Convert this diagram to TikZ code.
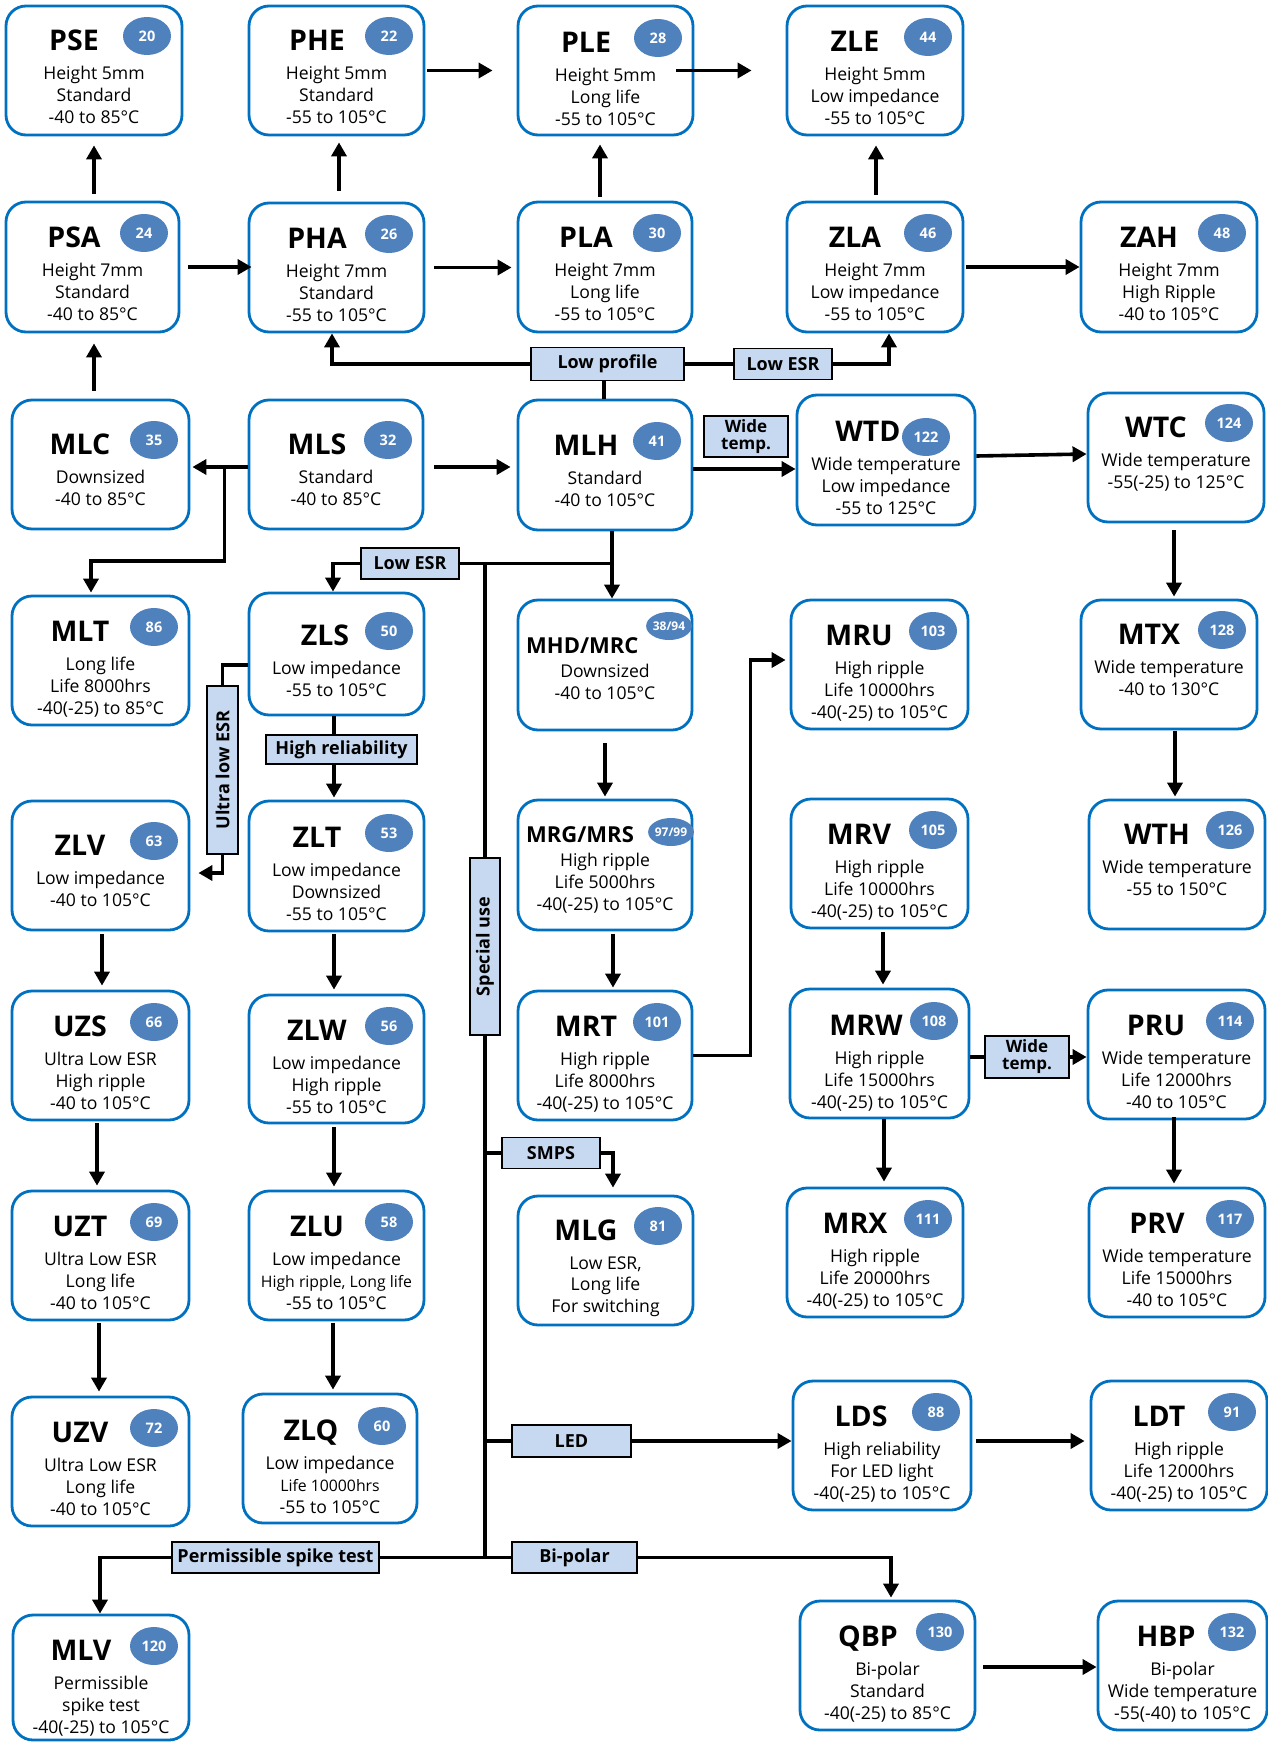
\documentclass[tikz,border=0pt]{standalone}
\usepackage{fontspec}
\setmainfont{Open Sans}
\usetikzlibrary{arrows.meta,shapes.geometric,calc}
\definecolor{boxblue}{HTML}{0070C0}
\definecolor{badgeblue}{HTML}{4F81BD}
\definecolor{lblfill}{HTML}{C6D9F1}
\tikzset{
 pbox/.style={draw=boxblue, line width=2.8pt, rounded corners=20pt, fill=white, inner sep=0},
 ptitle/.style={font=\bfseries\fontsize{28.5}{30}\selectfont, inner sep=0, text height=20.3pt, text depth=0pt},
 badge/.style={ellipse, fill=badgeblue, text=white, font=\bfseries\fontsize{14.5}{15}\selectfont, minimum width=48pt, minimum height=38pt, inner sep=0},
 smallbadge/.style={minimum width=44pt, minimum height=28pt, font=\bfseries\fontsize{12}{13}\selectfont},
 pbody/.style={font=\fontsize{17.6}{21.7}\selectfont, align=center, inner sep=0, execute at begin node=\strut},
 lbl/.style={draw=black, line width=1.8pt, fill=lblfill, font=\bfseries\fontsize{18}{18}\selectfont, inner sep=0},
 conn/.style={line width=3.6pt},
 arr/.style={line width=3.6pt, -{Triangle[length=14pt,width=15pt]}},
}
\def\tdx{68}\def\bdx{35}\def\bdy{-4}
\newcommand\pbx[9]{%
 \node[pbox, minimum width={#4-#2}, minimum height={#5-#3}] (#1) at ({(#2+#4)/2},{(#3+#5)/2}) {};
 \node[ptitle] (#1-t) at ({#2+\tdx},{#3+#6}) {#7};
 \node[badge] (#1-n) at ({#4-\bdx},{#3+#6+\bdy}) {#8};
 \node[pbody, anchor=north] (#1-d) at ({(#2+#4)/2},{#3+#6+26.2}) {#9};
}
\begin{document}
\begin{tikzpicture}[x=1pt,y=-1pt]
\fill[white] (0,0) rectangle (1268,1742);
\useasboundingbox (0,0) rectangle (1268,1742);

% ---------- product boxes ----------
\pbx{PSE}{6}{6}{182}{135}{34}{PSE}{20}{Height 5mm\\Standard\\-40 to 85°C}
\pbx{PHE}{249}{6}{424}{135}{34}{PHE}{22}{Height 5mm\\Standard\\-55 to 105°C}
\pbx{PLE}{518}{6}{693}{135}{36}{PLE}{28}{Height 5mm\\Long life\\-55 to 105°C}
\pbx{ZLE}{787}{6}{963}{135}{35}{ZLE}{44}{Height 5mm\\Low impedance\\-55 to 105°C}
\pbx{PSA}{6}{202}{179}{332}{35}{PSA}{24}{Height 7mm\\Standard\\-40 to 85°C}
\pbx{PHA}{249}{203}{424}{332}{35}{PHA}{26}{Height 7mm\\Standard\\-55 to 105°C}
\pbx{PLA}{518}{202}{692}{332}{35}{PLA}{30}{Height 7mm\\Long life\\-55 to 105°C}
\pbx{ZLA}{787}{202}{963}{332}{35}{ZLA}{46}{Height 7mm\\Low impedance\\-55 to 105°C}
\pbx{ZAH}{1081}{202}{1257}{332}{35}{ZAH}{48}{Height 7mm\\High Ripple\\-40 to 105°C}
\pbx{MLC}{12}{400}{189}{529}{44}{MLC}{35}{Downsized\\-40 to 85°C}
\pbx{MLS}{249}{400}{423}{529}{44}{MLS}{32}{Standard\\-40 to 85°C}
\pbx{MLH}{518}{400}{692}{530}{45}{MLH}{41}{Standard\\-40 to 105°C}
{\def\bdx{49}\def\bdy{6}\def\tdx{71}
\pbx{WTD}{797}{395}{975}{525}{36}{WTD}{122}{Wide temperature\\Low impedance\\-55 to 125°C}}
\pbx{WTC}{1088}{393}{1264}{522}{34}{WTC}{124}{Wide temperature\\-55(-25) to 125°C}
\pbx{MLT}{12}{596}{189}{725}{35}{MLT}{86}{Long life\\Life 8000hrs\\-40(-25) to 85°C}
{\def\tdx{76}
\pbx{ZLS}{249}{593}{424}{715}{42}{ZLS}{50}{Low impedance\\-55 to 105°C}}
\pbx{MRU}{791}{600}{968}{729}{35}{MRU}{103}{High ripple\\Life 10000hrs\\-40(-25) to 105°C}
\pbx{MTX}{1081}{600}{1257}{729}{34}{MTX}{128}{Wide temperature\\-40 to 130°C}
\pbx{ZLV}{12}{801}{189}{930}{44}{ZLV}{63}{Low impedance\\-40 to 105°C}
\pbx{ZLT}{249}{801}{424}{931}{36}{ZLT}{53}{Low impedance\\Downsized\\-55 to 105°C}
\pbx{MRV}{791}{799}{968}{928}{35}{MRV}{105}{High ripple\\Life 10000hrs\\-40(-25) to 105°C}
\pbx{WTH}{1089}{800}{1265}{929}{34}{WTH}{126}{Wide temperature\\-55 to 150°C}
\pbx{UZS}{12}{991}{189}{1120}{35}{UZS}{66}{Ultra Low ESR\\High ripple\\-40 to 105°C}
\pbx{ZLW}{249}{995}{424}{1123}{35}{ZLW}{56}{Low impedance\\High ripple\\-55 to 105°C}
\pbx{MRT}{518}{991}{692}{1120}{35}{MRT}{101}{High ripple\\Life 8000hrs\\-40(-25) to 105°C}
{\def\tdx{76}
\pbx{MRW}{790}{989}{969}{1118}{36}{MRW}{108}{High ripple\\Life 15000hrs\\-40(-25) to 105°C}}
\pbx{PRU}{1088}{990}{1265}{1119}{35}{PRU}{114}{Wide temperature\\Life 12000hrs\\-40 to 105°C}
\pbx{UZT}{12}{1191}{189}{1320}{35}{UZT}{69}{Ultra Low ESR\\Long life\\-40 to 105°C}
\pbx{ZLU}{249}{1191}{424}{1320}{35}{ZLU}{58}{Low impedance\\{\fontsize{15.8}{21.7}\selectfont High ripple, Long life}\\-55 to 105°C}
\pbx{MLG}{518}{1196}{693}{1325}{34}{MLG}{81}{Low ESR,\\Long life\\For switching}
\pbx{MRX}{787}{1188}{963}{1317}{35}{MRX}{111}{High ripple\\Life 20000hrs\\-40(-25) to 105°C}
\pbx{PRV}{1089}{1188}{1265}{1317}{35}{PRV}{117}{Wide temperature\\Life 15000hrs\\-40 to 105°C}
\pbx{UZV}{12}{1397}{189}{1526}{35}{UZV}{72}{Ultra Low ESR\\Long life\\-40 to 105°C}
\pbx{ZLQ}{243}{1394}{417}{1523}{36}{ZLQ}{60}{Low impedance\\{\fontsize{15.8}{21.7}\selectfont Life 10000hrs}\\-55 to 105°C}
\pbx{LDS}{793}{1381}{971}{1510}{35}{LDS}{88}{High reliability\\For LED light\\-40(-25) to 105°C}
\pbx{LDT}{1091}{1381}{1267}{1510}{35}{LDT}{91}{High ripple\\Life 12000hrs\\-40(-25) to 105°C}
\pbx{MLV}{13}{1615}{189}{1740}{35}{MLV}{120}{Permissible\\spike test\\-40(-25) to 105°C}
\pbx{QBP}{800}{1601}{975}{1730}{35}{QBP}{130}{Bi-polar\\Standard\\-40(-25) to 85°C}
\pbx{HBP}{1098}{1601}{1267}{1730}{35}{HBP}{132}{Bi-polar\\Wide temperature\\-55(-40) to 105°C}

% MHD/MRC and MRG/MRS
\node[pbox, minimum width=174, minimum height=130] (MHD) at (605,665) {};
\node[ptitle, font=\bfseries\fontsize{22}{24}\selectfont, text height=15.7pt, anchor=west] (MHD-t) at (526,646) {MHD/MRC};
\node[badge, smallbadge] (MHD-n) at (669,626) {38/94};
\node[pbody, anchor=north] (MHD-d) at (605,664.2) {Downsized\\-40 to 105°C};
\node[pbox, minimum width=174, minimum height=130] (MRG) at (605,865) {};
\node[ptitle, font=\bfseries\fontsize{22}{24}\selectfont, text height=15.7pt, anchor=west] (MRG-t) at (526,835) {MRG/MRS};
\node[badge, smallbadge] (MRG-n) at (671,832) {97/99};
\node[pbody, anchor=north] (MRG-d) at (605,853.2) {High ripple\\Life 5000hrs\\-40(-25) to 105°C};

% ---------- labels ----------
\node[lbl, minimum width=153, minimum height=33] (LP) at (607.5,364) {Low profile};
\node[lbl, minimum width=98, minimum height=31] (LESR1) at (783,364) {Low ESR};
\node[lbl, align=center, minimum width=84, minimum height=41, font=\bfseries\fontsize{17}{17}\selectfont] (WT1) at (746,436.5) {Wide\\temp.};
\node[lbl, minimum width=98, minimum height=31] (LESR2) at (410,563.5) {Low ESR};
\node[lbl, minimum width=151, minimum height=29] (HR) at (341.5,749.5) {High reliability};
\node[lbl, rotate=90, minimum width=168, minimum height=31] (ULE) at (222.5,770) {Ultra low ESR};
\node[lbl, rotate=90, minimum width=177, minimum height=30] (SU) at (485,946.5) {Special use};
\node[lbl, minimum width=98, minimum height=31] (SMPS) at (551,1153) {SMPS};
\node[lbl, minimum width=119, minimum height=32] (LED) at (571.5,1441) {LED};
\node[lbl, minimum width=125, minimum height=31] (BP) at (574.5,1557.5) {Bi-polar};
\node[lbl, minimum width=207, minimum height=31] (PST) at (275.5,1557.5) {Permissible spike test};
\node[lbl, align=center, minimum width=84, minimum height=42, font=\bfseries\fontsize{17}{17}\selectfont] (WT2) at (1027,1057) {Wide\\temp.};

% ---------- connectors ----------
% vertical arrows, upper part
\draw[arr, shorten <=7pt, shorten >=9pt] ([xshift=1.5pt]PSA.north) -- ([xshift=1.5pt]PSA.north |- PSE.south);
\draw[arr, shorten <=11pt, shorten >=6pt] ([xshift=2.5pt]PHA.north) -- ([xshift=2.5pt]PHA.north |- PHE.south);
\draw[arr, shorten <=4pt, shorten >=8pt] ([xshift=-5pt]PLA.north) -- ([xshift=-5pt]PLA.north |- PLE.south);
\draw[arr, shorten <=6pt, shorten >=9pt] ([xshift=1pt]ZLA.north) -- ([xshift=1pt]ZLA.north |- ZLE.south);
\draw[arr, shorten <=8pt, shorten >=10pt] ([xshift=-6.5pt]MLC.north) -- ([xshift=-6.5pt]MLC.north |- PSA.south);
% horizontal arrows, upper part
\draw[arr, shorten <=2pt, shorten >=24pt] (PHE.east) -- (PHE.east -| PLE.west);
\draw[arr, shorten >=34pt] ([xshift=-18pt]PLE.east) -- (PLE.east -| ZLE.west);
\draw[arr, shorten <=8pt, shorten >=-4pt] (PSA.east) -- (PSA.east -| PHA.west);
\draw[arr, shorten <=9pt, shorten >=5pt] (PHA.east) -- (PHA.east -| PLA.west);
\draw[arr, shorten <=2pt] (ZLA.east) -- (ZLA.east -| ZAH.west);
% low profile / low ESR
\draw[conn] ([xshift=-1pt]MLH.north) -- ([xshift=-1pt]MLH.north |- LP.south);
\draw[arr] (LP.west) -| ([xshift=-4.5pt]PHA.south);
\draw[conn] (LP.east) -- (LESR1.west);
\draw[arr] (LESR1.east) -| ([xshift=14pt]ZLA.south);
% MLS / MLH row
\draw[arr, shorten <=10pt, shorten >=6pt] ([yshift=-2.5pt]MLS.east) -- ([yshift=-2.5pt]MLS.east -| MLH.west);
\draw[arr] ([yshift=-4pt]MLH.east) -- ([yshift=-4pt]MLH.east -| WTD.west);
\draw[arr] ([yshift=4pt]WTD.east) -- ([yshift=3.5pt]WTC.west);
\draw[arr, shorten >=2pt] ([yshift=-2.5pt]MLS.west) -- ([yshift=-2.5pt]MLS.west -| MLC.east);
\coordinate (jMLS) at ([xshift=-23pt,yshift=-2.5pt]MLS.west);
\draw[arr, shorten >=2pt] (jMLS) -- ++(0,94) -| ([xshift=-9.5pt]MLT.north);
% MLH down, low ESR, special use trunk
\coordinate (mlhd) at ([xshift=7pt]MLH.south);
\draw[arr] (mlhd) -- (mlhd |- MHD.north);
\draw[conn] (LESR2.east) -- (LESR2.east -| mlhd);
\draw[arr] (LESR2.west) -| ([xshift=-3.5pt]ZLS.north);
\draw[conn] (LESR2.east -| SU.east) -- (SU.east);
\draw[conn] (SU.west) -- (SU.west |- BP.west);
% ZLS branch
\draw[conn] ([yshift=-11pt]ZLS.west) -| (ULE.east);
\draw[arr, shorten >=8pt] (ULE.west) |- ([yshift=-7.5pt]ZLV.east);
\draw[conn] ([xshift=-2.5pt]ZLS.south) -- ([xshift=-2.5pt]ZLS.south |- HR.north);
\draw[arr, shorten >=2pt] ([xshift=-2.5pt]ZLS.south |- HR.south) -- ([xshift=-2.5pt]ZLS.south |- ZLT.north);
\draw[arr, shorten <=2pt, shorten >=4pt] ([xshift=-2.5pt]ZLT.south) -- ([xshift=-2.5pt]ZLT.south |- ZLW.north);
\draw[arr, shorten <=3pt, shorten >=3pt] ([xshift=-2.5pt]ZLW.south) -- ([xshift=-2.5pt]ZLW.south |- ZLU.north);
\draw[arr, shorten <=2pt, shorten >=3pt] ([xshift=-3.5pt]ZLU.south) -- ([xshift=-3.5pt]ZLU.south |- ZLQ.north);
% left column
\draw[arr, shorten <=3pt, shorten >=4pt] ([xshift=1.5pt]ZLV.south) -- ([xshift=1.5pt]ZLV.south |- UZS.north);
\draw[arr, shorten <=2pt, shorten >=4pt] ([xshift=-3.5pt]UZS.south) -- ([xshift=-3.5pt]UZS.south |- UZT.north);
\draw[arr, shorten <=2pt, shorten >=4pt] ([xshift=-1.5pt]UZT.south) -- ([xshift=-1.5pt]UZT.south |- UZV.north);
% middle column
\draw[arr, shorten <=12pt, shorten >=2pt] (MHD.south) -- (MHD.south |- MRG.north);
\draw[arr, shorten <=3pt, shorten >=2pt] ([xshift=8pt]MRG.south) -- ([xshift=8pt]MRG.south |- MRT.north);
\draw[arr, shorten >=4pt] (MRT.east) -- ++(57,0) |- ([yshift=4.5pt]MRU.west);
% MR column
\draw[arr, shorten <=3pt, shorten >=3pt] ([xshift=3.5pt]MRV.south) -- ([xshift=3.5pt]MRV.south |- MRW.north);
\draw[arr, shorten >=5pt] ([xshift=4.5pt]MRW.south) -- ([xshift=4.5pt]MRW.south |- MRX.north);
\draw[conn] (MRW.east |- WT2.west) -- (WT2.west);
\draw[arr] (WT2.east) -- (WT2.east -| PRU.west);
% right column
\draw[arr, shorten <=7pt, shorten >=2pt] ([xshift=-2pt]WTC.south) -- ([xshift=-2pt]WTC.south |- MTX.north);
\draw[arr, shorten <=1pt, shorten >=2pt] ([xshift=6pt]MTX.south) -- ([xshift=6pt]MTX.south |- WTH.north);
\draw[arr, shorten <=-3pt, shorten >=3pt] ([xshift=-2.5pt]PRU.south) -- ([xshift=-2.5pt]PRU.south |- PRV.north);
% special use branches
\draw[conn] (SU.west |- SMPS.west) -- (SMPS.west);
\draw[arr, shorten >=7pt] (SMPS.east) -| ([xshift=7.5pt]MLG.north);
\draw[conn] (SU.west |- LED.west) -- (LED.west);
\draw[arr] (LED.east) -- (LED.east -| LDS.west);
\draw[conn] (SU.west |- BP.west) -- (BP.west);
\draw[arr, shorten >=2pt] (BP.east) -| ([xshift=3.5pt]QBP.north);
\draw[conn] (SU.west |- PST.east) -- (PST.east);
\draw[arr] (PST.west) -| ([xshift=-1pt]MLV.north);
% bottom right
\draw[arr, shorten <=4pt, shorten >=5pt] ([yshift=4.5pt]LDS.east) -- ([yshift=4.5pt]LDS.east -| LDT.west);
\draw[arr, shorten <=7pt] ([yshift=-1.5pt]QBP.east) -- ([yshift=-1.5pt]QBP.east -| HBP.west);
\end{tikzpicture}
\end{document}
